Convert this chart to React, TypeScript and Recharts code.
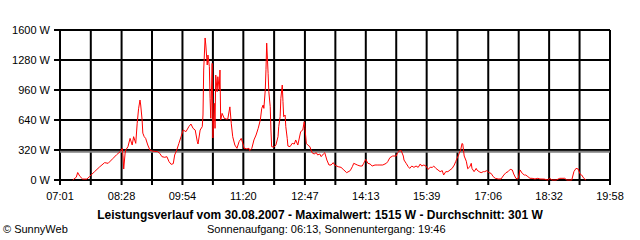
import React from "react";
import { LineChart, Line, XAxis, YAxis, CartesianGrid, ReferenceLine } from "recharts";

// readings of 30.08.2007, split in four parts of the day
const morningTimes = [
  "07:19", "07:24", "07:26", "07:29", "07:33", "07:39", "07:43", "07:50", "07:57", "08:04",
  "08:09", "08:16", "08:21", "08:26", "08:29", "08:30", "08:31", "08:33", "08:34", "08:37",
  "08:40", "08:43", "08:45", "08:48", "08:50", "08:52", "08:54", "08:55", "08:57", "08:58",
  "09:00", "09:02", "09:05", "09:08", "09:11", "09:15", "09:19",
];
const morningWatts = [
  0, 30, 80, 40, 10, 10, 40, 90, 140, 185,
  178, 231, 270, 302, 338, 260, 117, 288, 320, 356,
  444, 373, 462, 391, 600, 760, 853, 800, 640, 500,
  462, 444, 373, 320, 309, 305, 302,
];

const middayTimes = [
  "09:22", "09:25", "09:29", "09:32", "09:35", "09:38", "09:41", "09:43", "09:46", "09:49",
  "09:52", "09:55", "09:59", "10:03", "10:06", "10:09", "10:12", "10:15", "10:16", "10:19",
  "10:22", "10:23", "10:24", "10:26", "10:27", "10:29", "10:30", "10:32", "10:33", "10:34",
  "10:36", "10:37", "10:39", "10:40", "10:41", "10:43", "10:44", "10:46", "10:47", "10:48",
  "10:50", "10:53", "10:56", "10:58", "11:01", "11:03", "11:05", "11:08", "11:11", "11:14",
  "11:17", "11:20", "11:21", "11:25", "11:28", "11:29", "11:32", "11:35", "11:38", "11:41",
  "11:44", "11:46", "11:48", "11:49", "11:51", "11:52", "11:53", "11:54", "11:55", "11:56",
  "11:58", "11:59", "12:00", "12:03", "12:06", "12:09", "12:10", "12:12", "12:13", "12:15",
  "12:16", "12:17", "12:19", "12:20", "12:22", "12:23", "12:26", "12:29", "12:32", "12:34",
  "12:37",
];
const middayWatts = [
  284, 249, 242, 249, 196, 167, 174, 267, 320, 391,
  462, 533, 516, 569, 597, 551, 533, 409, 384, 533,
  569, 693, 1173, 1515, 1440, 1227, 1333, 1209, 871, 658,
  1244, 448, 818, 551, 1120, 942, 1102, 960, 1173, 640,
  711, 658, 650, 650, 780, 600, 462, 373, 338, 409,
  444, 373, 338, 332, 338, 313, 338, 427, 480, 551,
  640, 764, 800, 764, 960, 1180, 1460, 1300, 1138, 942,
  782, 533, 356, 350, 373, 462, 569, 676, 871, 1013,
  836, 676, 693, 569, 444, 362, 356, 391, 384, 427,
  373,
];

const afternoonTimes = [
  "12:41", "12:44", "12:46", "12:47", "12:49", "12:51", "12:54", "12:57", "13:00", "13:03",
  "13:05", "13:08", "13:10", "13:13", "13:15", "13:18", "13:21", "13:24", "13:27", "13:29",
  "13:34", "13:38", "13:42", "13:46", "13:51", "13:54", "13:56", "14:01", "14:05", "14:08",
  "14:10", "14:13", "14:16", "14:19", "14:22", "14:26", "14:30", "14:33", "14:37", "14:42",
  "14:44", "14:47", "14:51", "14:56", "14:58", "15:01", "15:03", "15:06", "15:07", "15:10",
  "15:13", "15:15", "15:18", "15:21", "15:24", "15:27", "15:30", "15:32", "15:35", "15:38",
  "15:41", "15:44", "15:47", "15:49", "15:52", "15:55", "15:58", "16:01", "16:03", "16:06",
  "16:09", "16:12", "16:15", "16:18", "16:20", "16:22", "16:25", "16:27", "16:29", "16:30",
  "16:32", "16:35", "16:37",
];
const afternoonWatts = [
  516, 533, 622, 560, 391, 373, 356, 292, 277, 292,
  267, 277, 249, 277, 292, 213, 160, 160, 185, 160,
  142, 135, 107, 78, 100, 142, 178, 160, 149, 149,
  178, 220, 178, 171, 149, 160, 160, 160, 160, 178,
  196, 238, 256, 256, 292, 313, 313, 256, 213, 178,
  142, 124, 149, 135, 149, 135, 171, 149, 160, 149,
  114, 135, 135, 149, 124, 107, 89, 100, 53, 89,
  89, 107, 124, 160, 196, 231, 284, 320, 391, 384,
  256, 200, 120,
];

const eveningTimes = [
  "16:40", "16:42", "16:43", "16:46", "16:49", "16:50", "16:53", "16:56", "16:59", "17:01",
  "17:04", "17:07", "17:10", "17:13", "17:16", "17:20", "17:24", "17:28", "17:31", "17:34",
  "17:37", "17:40", "17:42", "17:45", "17:48", "17:51", "17:54", "17:57", "17:59", "18:02",
  "18:05", "18:08", "18:12", "18:16", "18:19", "18:25", "18:30", "18:33", "18:36", "18:42",
  "18:47", "18:54", "18:57", "19:04", "19:07", "19:10", "19:13", "19:16", "19:18", "19:21",
  "19:24",
];
const eveningWatts = [
  142, 178, 124, 89, 124, 107, 89, 78, 89, 89,
  100, 78, 71, 36, 18, 11, 11, 53, 78, 89,
  114, 107, 64, 18, 11, 107, 71, 53, 53, 36,
  18, 18, 11, 18, 11, 10, 0, 18, 0, 0,
  18, 18, 0, 0, 89, 124, 117, 60, 53, 18,
  0,
];

const xTickLabels = ["07:01", "08:28", "09:54", "11:20", "12:47", "14:13", "15:39", "17:06", "18:32", "19:58"];
const yTicks = [0, 320, 640, 960, 1280, 1600];
const average = 301;

const toMin = (s: string) => {
  const [h, m] = s.split(":").map(Number);
  return h * 60 + m;
};

const times = [...morningTimes, ...middayTimes, ...afternoonTimes, ...eveningTimes];
const watts = [...morningWatts, ...middayWatts, ...afternoonWatts, ...eveningWatts];
const data = times.map((t, i) => ({ t: toMin(t), w: watts[i] }));

const labelMins = xTickLabels.map(toMin);
// grid line between every two labelled ticks
const gridTicks = labelMins.flatMap((m, i) => (i === 0 ? [m] : [(labelMins[i - 1] + m) / 2, m]));
const labelByMin = new Map(labelMins.map((m, i) => [m, xTickLabels[i]]));

const font = "'Liberation Sans', Arial, sans-serif";

export default function App() {
  return (
    <div
      style={{
        position: "absolute",
        left: 0,
        top: 0,
        width: 640,
        height: 240,
        background: "#fff",
        fontFamily: font,
      }}
    >
      <LineChart width={640} height={240} data={data} margin={{ top: 30, right: 30, bottom: 35, left: 0 }}>
        <CartesianGrid stroke="#000" strokeWidth={2} />
        <XAxis
          dataKey="t"
          type="number"
          domain={[labelMins[0], labelMins[labelMins.length - 1]]}
          ticks={gridTicks}
          interval={0}
          tickFormatter={(v: number) => labelByMin.get(v) ?? ""}
          axisLine={false}
          tickLine={{ stroke: "#000", strokeWidth: 2 }}
          tickSize={5}
          tickMargin={7}
          tick={{ fill: "#000", fontSize: 11, fontFamily: font }}
          height={25}
        />
        <YAxis
          type="number"
          domain={[0, 1600]}
          ticks={yTicks}
          interval={0}
          tickFormatter={(v: number) => `${v} W`}
          axisLine={false}
          tickLine={{ stroke: "#000", strokeWidth: 2 }}
          tickSize={6}
          tickMargin={4}
          tick={{ fill: "#000", fontSize: 11, fontFamily: font }}
          width={60}
        />
        <ReferenceLine y={average} stroke="#808080" strokeWidth={2} />
        <Line
          type="linear"
          dataKey="w"
          stroke="#ff0000"
          strokeWidth={1}
          dot={false}
          isAnimationActive={false}
        />
      </LineChart>
      <div
        style={{
          position: "absolute",
          left: 0,
          top: 208,
          width: 640,
          textAlign: "center",
          fontWeight: "bold",
          fontSize: 12,
          lineHeight: "14px",
        }}
      >
        Leistungsverlauf vom 30.08.2007 - Maximalwert: 1515 W - Durchschnitt: 301 W
      </div>
      <div style={{ position: "absolute", left: 207, top: 222, fontSize: 11, lineHeight: "14px" }}>
        Sonnenaufgang: 06:13, Sonnenuntergang: 19:46
      </div>
      <div style={{ position: "absolute", left: 3, top: 222, fontSize: 11, lineHeight: "14px" }}>
        © SunnyWeb
      </div>
    </div>
  );
}
